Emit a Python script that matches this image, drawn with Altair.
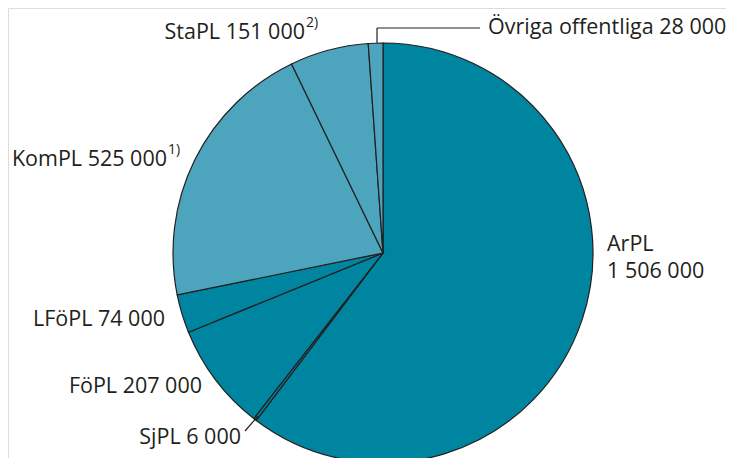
import altair as alt
import pandas as pd

# Data
categories = ["ArPL", "SjPL", "FöPL", "LFöPL", "KomPL", "StaPL", "Övriga offentliga"]
values = [1506000, 6000, 207000, 74000, 525000, 151000, 28000]
groups = ["dark", "dark", "dark", "dark", "light", "light", "light"]

# Label texts
label_texts = ["ArPL", "1 506 000", "SjPL 6 000", "FöPL 207 000", "LFöPL 74 000",
               "KomPL 525 000", "StaPL 151 000", "Övriga offentliga 28 000"]
sup_texts = ["1)", "2)"]

# Layout (chart pixel coordinates)
CX, CY, R = 375, 245, 210
label_x = [599, 599, 233, 194, 157, 159, 297, 480]
label_y = [237, 264, 430, 379, 312, 152, 25, 20]
label_align = ["left", "left", "right", "right", "right", "right", "right", "left"]
sup_x = [160, 298]
sup_y = [142, 15]

pie_df = pd.DataFrame({"cat": categories, "value": values, "group": groups,
                       "order": list(range(len(categories)))})
lab_df = pd.DataFrame({"t": label_texts, "x": label_x, "y": label_y, "a": label_align})
sup_df = pd.DataFrame({"t": sup_texts, "x": sup_x, "y": sup_y})
lines_df = pd.DataFrame({
    "x": [369, 369, 250],
    "y": [35, 20, 408],
    "x2": [369, 472, 237],
    "y2": [20, 20, 423],
})

FONT = "Open Sans"
TXT = "#231f20"
FS = 21.5

pie = alt.Chart(pie_df).mark_arc(stroke="#231f20", strokeWidth=1.2).encode(
    theta=alt.Theta("value:Q", stack=True),
    order=alt.Order("order:Q"),
    color=alt.Color("group:N", scale=alt.Scale(domain=["dark", "light"],
                                                range=["#0085a1", "#4ca4bd"]), legend=None),
    x=alt.value(CX), y=alt.value(CY), radius=alt.value(R),
)

lines = alt.Chart(lines_df).mark_rule(color="#231f20", strokeWidth=1.2).encode(
    x=alt.X("x:Q", scale=None), y=alt.Y("y:Q", scale=None),
    x2="x2:Q", y2="y2:Q",
)

labels_left = alt.Chart(lab_df[lab_df.a == "left"]).mark_text(
    font=FONT, fontSize=FS, color=TXT, align="left", baseline="middle").encode(
    x=alt.X("x:Q", scale=None), y=alt.Y("y:Q", scale=None), text="t:N")
labels_right = alt.Chart(lab_df[lab_df.a == "right"]).mark_text(
    font=FONT, fontSize=FS, color=TXT, align="right", baseline="middle").encode(
    x=alt.X("x:Q", scale=None), y=alt.Y("y:Q", scale=None), text="t:N")
sups = alt.Chart(sup_df).mark_text(
    font=FONT, fontSize=14, color=TXT, align="left", baseline="middle").encode(
    x=alt.X("x:Q", scale=None), y=alt.Y("y:Q", scale=None), text="t:N")

chart = alt.layer(pie, lines, labels_left, labels_right, sups).properties(
    width=718, height=450, padding=0,
    autosize=alt.AutoSizeParams(type="none"),
).configure_view(stroke=None).configure(background="white")

chart.save("out.html", embed_options={"renderer": "svg", "actions": False})
